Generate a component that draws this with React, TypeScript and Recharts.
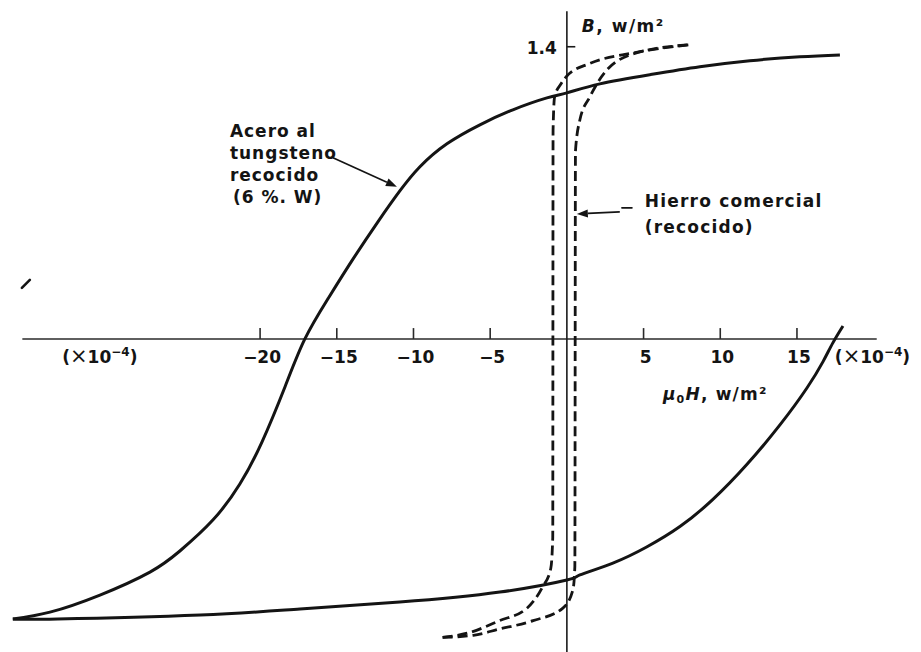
import React from 'react';
import { LineChart, Line, XAxis, YAxis, ReferenceLine, ReferenceDot } from 'recharts';

// Acero al tungsteno (6 % W) recocido: rama superior (H en unidades de 1e-4 w/m², B en w/m²)
const steelUpperH = [-36.12, -33.7, -30.44, -27.18, -25.23, -23.08, -21.32, -19.88, -18.38, -17.08, -15.58, -14.02, -12.32, -10.89, -9.58, -7.82, -5.67, -3.52, -1.3, 0, 2.15, 5.41, 8.67, 11.93, 15.19, 17.8];
const steelUpperB = [-1.342, -1.309, -1.227, -1.117, -1.016, -0.868, -0.695, -0.494, -0.23, 0, 0.192, 0.374, 0.561, 0.709, 0.825, 0.935, 1.026, 1.098, 1.155, 1.179, 1.222, 1.266, 1.304, 1.333, 1.352, 1.361];

// Acero al tungsteno: rama inferior
const steelLowerH = [-36.12, -33.2, -23.9, -17.4, -10.9, -4.37, 0, 0.85, 3.0, 5.2, 7.37, 9.52, 11.73, 13.89, 15.65, 16.69, 17.34, 18.0];
const steelLowerB = [-1.342, -1.342, -1.323, -1.294, -1.261, -1.213, -1.155, -1.131, -1.074, -0.997, -0.899, -0.769, -0.602, -0.412, -0.235, -0.110, -0.019, 0.062];

// Hierro comercial (recocido): rama superior del ciclo
const ironUpperH = [-8.1, -6.5, -4.4, -2.6, -1.6, -1.05, -0.92, -0.9, -0.8, -0.4, 0, 1.5, 4.3, 8.0];
const ironUpperB = [-1.43, -1.41, -1.35, -1.29, -1.19, -1.1, -0.95, 1.0, 1.16, 1.22, 1.26, 1.32, 1.37, 1.41];

// Hierro comercial: rama inferior del ciclo
const ironLowerH = [-8.1, -6.1, -4.4, -2.2, -0.26, 0.4, 0.52, 0.56, 0.85, 1.5, 2.2, 4.1, 8.0];
const ironLowerB = [-1.43, -1.42, -1.39, -1.35, -1.29, -1.2, -1.09, 0.9, 1.05, 1.16, 1.25, 1.36, 1.41];

// Marcas del eje horizontal
const hTicks = [-20, -15, -10, -5, 5, 10, 15];
const hTickLabels = ['\u221220', '\u221215', '\u221210', '\u22125', '5', '10', '15'];
const bTick = 1.4;
const bTickLabel = '1.4';

const toPoints = (hs: number[], bs: number[]) => hs.map((h, i) => ({ h, b: bs[i] }));

const INK = '#141414';
const FONT = '"DejaVu Sans", "Liberation Sans", sans-serif';
const textStyle = { fontFamily: FONT, fontSize: 17, fill: INK, fontWeight: 'bold' as const };

const arrowShape = (p: any) => {
  const { x1, y1, x2, y2 } = p;
  const a = Math.atan2(y2 - y1, x2 - x1);
  const len = 11;
  const w = 4;
  const bx = x2 - len * Math.cos(a);
  const by = y2 - len * Math.sin(a);
  const pts = `${x2},${y2} ${bx + w * Math.sin(a)},${by - w * Math.cos(a)} ${bx - w * Math.sin(a)},${by + w * Math.cos(a)}`;
  return (
    <g>
      <line x1={x1} y1={y1} x2={bx} y2={by} stroke={INK} strokeWidth={1.7} />
      <polygon points={pts} fill={INK} />
    </g>
  );
};

const plainSegment = (w: number) => (p: any) => (
  <line x1={p.x1} y1={p.y1} x2={p.x2} y2={p.y2} stroke={INK} strokeWidth={w} strokeLinecap="round" />
);

const ScaleFactor = (p: any) => (
  <text x={p.cx} y={p.cy + 24} style={textStyle}>
    (<tspan fontSize={21} fontWeight="normal">×</tspan>10
    <tspan fontSize={12} dy={-7}>−4</tspan>
    <tspan dy={7}>)</tspan>
  </text>
);

export default function App() {
  const steelUpper = toPoints(steelUpperH, steelUpperB);
  const steelLower = toPoints(steelLowerH, steelLowerB);
  const ironUpper = toPoints(ironUpperH, ironUpperB);
  const ironLower = toPoints(ironLowerH, ironLowerB);

  return (
    <div style={{ position: 'absolute', left: 0, top: 0, background: '#fff' }}>
      <LineChart width={921} height={652} margin={{ top: 5, right: 9, bottom: 0, left: 7 }}>
        <XAxis type="number" dataKey="h" domain={[-36.5, 22.5]} hide allowDataOverflow />
        <YAxis type="number" dataKey="b" domain={[-1.5, 1.6]} hide allowDataOverflow />

        {/* ejes cruzados en el origen */}
        <ReferenceLine segment={[{ x: -35.5, y: 0 }, { x: 20.2, y: 0 }]} stroke="#2a2a2a" strokeWidth={1.6} />
        <ReferenceLine segment={[{ x: 0, y: -1.5 }, { x: 0, y: 1.57 }]} stroke="#1a1a1a" strokeWidth={1.6} />

        {hTicks.map((t) => (
          <ReferenceLine key={`tick${t}`} segment={[{ x: t, y: 0 }, { x: t, y: 0.052 }]} stroke="#2a2a2a" strokeWidth={1.6} />
        ))}
        {hTicks.map((t, i) => (
          <ReferenceDot
            key={`lab${t}`}
            x={t}
            y={0}
            r={0}
            shape={(p: any) => (
              <text x={p.cx + 2} y={p.cy + 24} textAnchor="middle" style={textStyle}>
                {hTickLabels[i]}
              </text>
            )}
          />
        ))}

        <ReferenceLine segment={[{ x: 0, y: bTick }, { x: 0.55, y: bTick }]} stroke="#1a1a1a" strokeWidth={1.6} />
        <ReferenceDot
          x={0}
          y={bTick}
          r={0}
          shape={(p: any) => (
            <g>
              <text x={p.cx - 10} y={p.cy + 7} textAnchor="end" style={textStyle}>
                {bTickLabel}
              </text>
              <text x={p.cx + 15} y={p.cy - 15} style={textStyle} letterSpacing={1.5}>
                <tspan fontStyle="italic">B</tspan>, w/m²
              </text>
            </g>
          )}
        />

        {/* factor de escala del eje H */}
        <ReferenceDot x={-32.9} y={0} r={0} shape={ScaleFactor} />
        <ReferenceDot x={17.47} y={0} r={0} shape={ScaleFactor} />
        <ReferenceDot
          x={6.26}
          y={-0.292}
          r={0}
          shape={(p: any) => (
            <text x={p.cx} y={p.cy} style={textStyle} letterSpacing={1.2}>
              <tspan fontStyle="italic">μ</tspan>
              <tspan fontSize={11} dy={3}>0</tspan>
              <tspan dy={-3} fontStyle="italic">H</tspan>, w/m²
            </text>
          )}
        />

        {/* rótulos de las curvas */}
        <ReferenceDot
          x={-21.97}
          y={0.968}
          r={0}
          shape={(p: any) => (
            <text x={p.cx} y={p.cy} style={textStyle} letterSpacing={1}>
              <tspan x={p.cx}>Acero  al</tspan>
              <tspan x={p.cx} dy={22}>tungsteno</tspan>
              <tspan x={p.cx} dy={22}>recocido</tspan>
              <tspan x={p.cx + 3} dy={22}>(6 %. W)</tspan>
            </text>
          )}
        />
        <ReferenceLine segment={[{ x: -15.25, y: 0.868 }, { x: -11.08, y: 0.729 }]} shape={arrowShape} />

        <ReferenceDot
          x={5.08}
          y={0.633}
          r={0}
          shape={(p: any) => (
            <text x={p.cx} y={p.cy} style={textStyle} letterSpacing={1.2}>
              <tspan x={p.cx}>Hierro comercial</tspan>
              <tspan x={p.cx} dy={26}>(recocido)</tspan>
            </text>
          )}
        />
        <ReferenceLine segment={[{ x: 3.59, y: 0.628 }, { x: 4.24, y: 0.628 }]} shape={plainSegment(1.7)} />
        <ReferenceLine segment={[{ x: 3.45, y: 0.609 }, { x: 0.65, y: 0.599 }]} shape={arrowShape} />

        {/* trazo suelto a la izquierda */}
        <ReferenceLine segment={[{ x: -35.53, y: 0.2445 }, { x: -35.01, y: 0.2828 }]} shape={plainSegment(2.6)} />

        {/* ciclos de histéresis */}
        <Line data={steelUpper} dataKey="b" type="natural" stroke={INK} strokeWidth={3} dot={false} isAnimationActive={false} />
        <Line data={steelLower} dataKey="b" type="natural" stroke={INK} strokeWidth={3} dot={false} isAnimationActive={false} />
        <Line data={ironUpper} dataKey="b" type="monotone" stroke={INK} strokeWidth={2.8} strokeDasharray="10 5" dot={false} isAnimationActive={false} />
        <Line data={ironLower} dataKey="b" type="monotone" stroke={INK} strokeWidth={2.8} strokeDasharray="10 5" dot={false} isAnimationActive={false} />
      </LineChart>
    </div>
  );
}
